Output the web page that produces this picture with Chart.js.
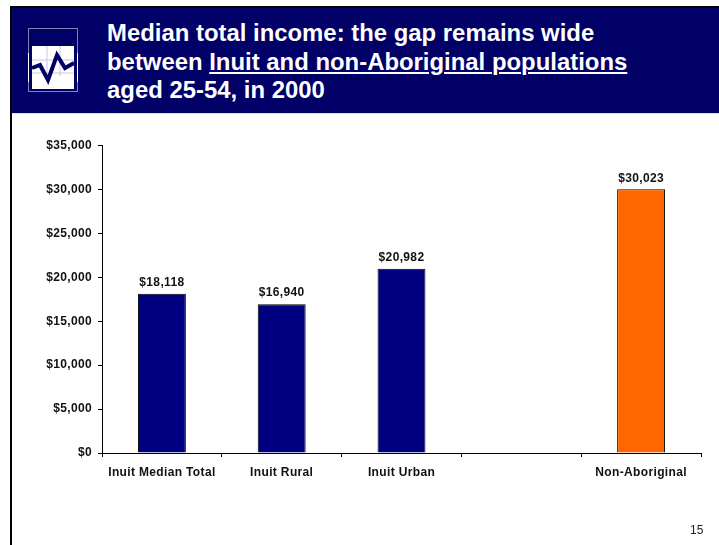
<!DOCTYPE html>
<html>
<head>
<meta charset="utf-8">
<title>Median total income</title>
<script src="https://cdn.jsdelivr.net/npm/chart.js@4/dist/chart.umd.min.js"></script>
<style>
    html, body { margin: 0; padding: 0; background: #fff; overflow: hidden; }
    body { width: 719px; height: 545px; position: relative; font-family: "Liberation Sans", Arial, sans-serif; }
    #chart { position: absolute; left: 0; top: 0; }
    #leftLine { position: absolute; left: 10px; top: 6px; width: 2px; height: 539px; background: #000; }
    #topLine { position: absolute; left: 10px; top: 6px; width: 709px; height: 2px; background: #000; }
    #header { position: absolute; left: 12px; top: 8px; width: 707px; height: 105px; background: #000066; border-bottom: 1px solid #e8e4d0; }
    #icon { position: absolute; left: 16px; top: 20px; }
    #title { position: absolute; left: 95px; top: 11px; color: #fff; font-weight: bold; font-size: 23.9px; line-height: 28.5px; white-space: nowrap; }
    #title u { text-decoration-thickness: 2px; text-underline-offset: 2px; }
    #pageNum { position: absolute; left: 690px; top: 523px; font-size: 12px; color: #222; }
</style>
</head>
<body>
<canvas id="chart" width="719" height="545"></canvas>
<div id="leftLine"></div>
<div id="topLine"></div>
<div id="header">
    <svg id="icon" width="52" height="66" viewBox="0 0 52 66">
        <rect x="0.5" y="0.5" width="49" height="63" fill="none" stroke="#8080b0" stroke-width="1"/>
        <path d="M0.5 25V54M49.5 25V54" stroke="#fff" stroke-width="1" fill="none"/>
        <rect x="4" y="18" width="42" height="43" fill="#fff"/>
        <path d="M19 18V48M32 18V48M4 32H46M4 45H46" stroke="#c8c8e0" stroke-width="1" fill="none"/>
        <polyline points="4,40 12,37 20,52 29,27 37,40 46,35" fill="none" stroke="#000066" stroke-width="4"/>
    </svg>
    <div id="title">Median total income: the gap remains wide<br>between <u>Inuit and non-Aboriginal populations</u><br>aged 25-54, in 2000</div>
</div>
<div id="pageNum">15</div>

<script>
const categories = ['Inuit Median Total', 'Inuit Rural', 'Inuit Urban', '', 'Non-Aboriginal'];
const incomeValues = [18118, 16940, 20982, null, 30023];
const barColors = ['#000080', '#000080', '#000080', '#000080', '#FF6600'];
const yTicks = [0, 5000, 10000, 15000, 20000, 25000, 30000, 35000];

const tickFont = { family: '"Liberation Sans", Arial, sans-serif', size: 12, weight: 'bold' };

function money(v) {
    return '$' + v.toLocaleString('en-US');
}

// the reference text is stretched wide, so space the canvas letters out a bit
const wideText = {
    id: 'wideText',
    beforeDraw(chart) { chart.ctx.letterSpacing = '0.35px'; }
};

// value labels above each bar
const barLabels = {
    id: 'barLabels',
    afterDatasetsDraw(chart) {
        const ctx = chart.ctx;
        const meta = chart.getDatasetMeta(0);
        ctx.save();
        ctx.font = 'bold 12px "Liberation Sans", Arial, sans-serif';
        ctx.fillStyle = '#111';
        ctx.textAlign = 'center';
        ctx.textBaseline = 'bottom';
        incomeValues.forEach((v, i) => {
            if (v === null) return;
            ctx.fillText(money(v), meta.data[i].x, meta.data[i].y - 5);
        });
        ctx.restore();
    }
};

new Chart(document.getElementById('chart').getContext('2d'), {
    type: 'bar',
    data: {
        labels: categories,
        datasets: [{
            data: incomeValues,
            backgroundColor: barColors,
            borderColor: '#000',
            borderWidth: 1,
            barPercentage: 0.4,
            categoryPercentage: 1
        }]
    },
    plugins: [wideText, barLabels],
    options: {
        responsive: false,
        animation: false,
        layout: { padding: { top: 145.5, left: 0, right: 18, bottom: 0 } },
        plugins: { legend: { display: false }, tooltip: { enabled: false } },
        scales: {
            x: {
                afterFit(scale) { scale.height = 92; },
                grid: { offset: true, drawOnChartArea: false, color: '#000', tickLength: 4 },
                border: { color: '#000' },
                ticks: { color: '#111', font: tickFont, maxRotation: 0, autoSkip: false, padding: 8 }
            },
            y: {
                min: 0,
                max: 35000,
                afterFit(scale) { scale.width = 102; },
                afterBuildTicks(scale) { scale.ticks = yTicks.map(v => ({ value: v })); },
                grid: { drawOnChartArea: false, color: '#000', tickLength: 4 },
                border: { color: '#000' },
                ticks: { color: '#111', font: tickFont, padding: 6, callback: v => money(v) }
            }
        }
    }
});
</script>
</body>
</html>
